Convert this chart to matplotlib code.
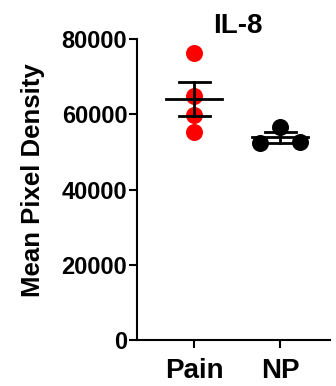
import matplotlib
matplotlib.use("Agg")
import matplotlib.pyplot as plt
import numpy as np

plt.rcParams['font.family'] = ['Liberation Sans', 'DejaVu Sans']

categories = ["Pain", "NP"]
pain_values = [76400, 64900, 59800, 55300]
np_values = [52400, 56700, 52500]
np_offsets = [-0.23, 0.0, 0.23]
pain_offsets = [0, 0, 0, 0]
colors = ["#ff0000", "#000000"]
title = "IL-8"
ylabel = "Mean Pixel Density"
yticks = [0, 20000, 40000, 60000, 80000]

fig = plt.figure(figsize=(3.36, 3.86), dpi=100)
ax = fig.add_axes([0.408, 0.119, 0.574, 0.780])

groups = [pain_values, np_values]
offsets = [pain_offsets, np_offsets]
for i, (vals, offs) in enumerate(zip(groups, offsets)):
    x = [i + o for o in offs]
    ax.scatter(x, vals, s=150, color=colors[i], zorder=3, linewidths=0)
    m = np.mean(vals)
    sem = np.std(vals, ddof=1) / np.sqrt(len(vals))
    ax.plot([i - 0.33, i + 0.33], [m, m], color="black", lw=2, zorder=4)
    ax.plot([i, i], [m - sem, m + sem], color="black", lw=2, zorder=4)
    ax.plot([i - 0.18, i + 0.18], [m + sem, m + sem], color="black", lw=2, zorder=4)
    ax.plot([i - 0.18, i + 0.18], [m - sem, m - sem], color="black", lw=2, zorder=4)

ax.set_xlim(-0.663, 1.58)
ax.set_ylim(0, 80000)
ax.set_yticks(yticks)
ax.set_yticklabels([str(t) for t in yticks], fontsize=17, fontweight="bold")
ax.set_xticks([0, 1])
ax.set_xticklabels(categories, fontsize=20, fontweight="bold")
fig.text(33 / 336, 1 - 180 / 386, ylabel, rotation=90, ha="center", va="center",
         fontsize=18.5, fontweight="bold")
ax.spines["top"].set_visible(False)
ax.spines["right"].set_visible(False)
for s in ["left", "bottom"]:
    ax.spines[s].set_linewidth(1.5)
ax.tick_params(axis="both", width=1.5, length=6)
ax.tick_params(axis="y", pad=1)
ax.tick_params(axis="x", pad=7)
ax.set_title(title, fontsize=20, fontweight="bold", pad=4, x=0.52)

fig.savefig("out.png", dpi=100)
